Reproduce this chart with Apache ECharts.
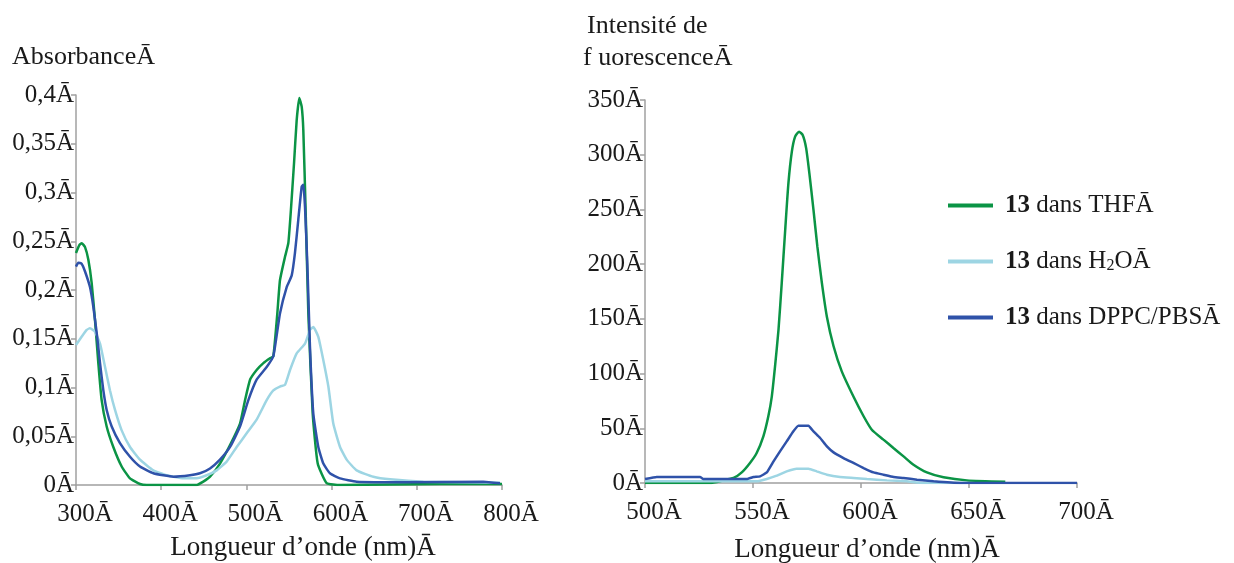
<!DOCTYPE html>
<html>
<head>
<meta charset="utf-8">
<script src="https://cdn.jsdelivr.net/npm/echarts@6/dist/echarts.min.js"></script>
<style>
  html, body { margin: 0; padding: 0; background: #ffffff; }
  #chart { width: 1234px; height: 563px; }
</style>
</head>
<body>
<div id="chart"></div>
<script>
// ---------- Data ----------
// Absorbance panel (wavelength nm, absorbance)
const absWlTHF = [300, 303.9, 306.7, 310.6, 314.5, 318.4, 322.3, 326.2, 330.1, 336, 343.8, 353.6, 363.4, 375.1, 383, 441.6, 449.4, 457.3, 469, 480.8, 492.5, 498.4, 504.3, 512, 519.9, 527.7, 531.6, 536.3, 539.4, 545.3, 549.2, 552, 555.9, 559, 562.1, 564.9, 566.8, 569.6, 572.7, 577.8, 583.7, 594.2, 610, 727, 800];
const absTHF   = [0.238, 0.246, 0.248, 0.244, 0.231, 0.207, 0.169, 0.125, 0.087, 0.060, 0.039, 0.019, 0.0068, 0.001, 0, 0, 0.0034, 0.0085, 0.022, 0.041, 0.063, 0.087, 0.108, 0.118, 0.125, 0.130, 0.132, 0.176, 0.210, 0.234, 0.248, 0.279, 0.330, 0.374, 0.397, 0.388, 0.364, 0.279, 0.176, 0.0735, 0.022, 0.002, 0, 0.001, 0.001];

const absWlH2O = [300, 306.6, 312.5, 316.4, 322.3, 328.2, 334.1, 339.9, 345.8, 353.6, 363.4, 375.1, 390.8, 406.4, 426, 441.6, 453.4, 465.1, 476.8, 488.6, 500.3, 512, 523.8, 531.6, 539.4, 545.3, 551.2, 559, 568.8, 574.6, 578.5, 584.4, 590.3, 596.2, 602, 609.9, 617.7, 629.4, 649, 668.6, 707.7, 797.7];
const absH2O   = [0.1436, 0.152, 0.159, 0.1607, 0.157, 0.145, 0.121, 0.097, 0.077, 0.056, 0.039, 0.026, 0.015, 0.010, 0.007, 0.007, 0.010, 0.015, 0.024, 0.039, 0.053, 0.067, 0.087, 0.097, 0.101, 0.1026, 0.118, 0.135, 0.145, 0.159, 0.162, 0.152, 0.128, 0.101, 0.063, 0.039, 0.026, 0.015, 0.0085, 0.0058, 0.0034, 0.0024];

const absWlDPPC = [300, 302.7, 306.6, 310.6, 316.4, 320.3, 324.3, 328.2, 332.1, 336, 341.9, 351.6, 363.4, 375.1, 390.8, 414.3, 433.8, 445.5, 457.3, 469, 480.8, 492.5, 502.3, 512, 523.8, 531.6, 539.4, 547.3, 553.2, 557, 560.9, 564.9, 566.8, 568.8, 571.5, 574.6, 578.5, 584.4, 590.3, 598.1, 609.9, 629.4, 688.1, 778, 797.7];
const absDPPC   = [0.224, 0.228, 0.227, 0.219, 0.203, 0.183, 0.156, 0.125, 0.097, 0.077, 0.060, 0.043, 0.029, 0.019, 0.012, 0.0085, 0.010, 0.012, 0.017, 0.026, 0.039, 0.060, 0.087, 0.108, 0.121, 0.132, 0.176, 0.203, 0.215, 0.238, 0.272, 0.306, 0.308, 0.285, 0.227, 0.142, 0.0735, 0.039, 0.022, 0.012, 0.0068, 0.0034, 0.0028, 0.0034, 0.0017];

// Fluorescence panel (wavelength nm, intensity)
const fluWlTHF = [500, 530, 536.3, 541, 544.8, 548.6, 551.7, 554.8, 557.1, 558.7, 560.2, 561.8, 563.3, 564.9, 566.4, 568, 569.5, 571.3, 573, 574.6, 576.1, 578, 579.8, 581.9, 584.2, 587.3, 591.1, 596.5, 601.2, 605, 610.4, 615, 619.7, 624.3, 630.5, 638.2, 649, 666.8];
const fluTHF   = [0, 0, 2.4, 4.6, 9.7, 18.3, 27.4, 42.6, 60.9, 79, 106.5, 140, 182.6, 231, 274, 303, 316.5, 321, 318, 306, 283, 249.6, 216, 182.6, 152, 125, 102, 79, 61, 48.7, 39.6, 32, 24.3, 16.7, 9.7, 5.2, 2.4, 1.2];

const fluWlH2O = [500, 551.7, 556.4, 561, 565.6, 570.2, 575.7, 579.5, 584.2, 590.3, 596.5, 602.7, 612, 621.2, 629, 649];
const fluH2O   = [1.5, 1.5, 3.65, 6.7, 10.65, 13.1, 13.1, 10.65, 7.6, 5.5, 4.6, 3.65, 2.4, 1.5, 0, 0];

const fluWlDPPC = [500, 505.4, 525.5, 527, 547.1, 550.2, 553.3, 556.4, 559.5, 562.5, 565.6, 568.7, 571, 575.7, 578, 581.1, 584.2, 587.3, 591.9, 596.5, 601.2, 605.8, 610.4, 615.1, 619.7, 625.9, 633.6, 645.9, 700];
const fluDPPC   = [3.65, 5.5, 5.5, 3.65, 3.65, 5.5, 6.1, 9.7, 19.8, 28.9, 38, 47.2, 52.3, 52.3, 47.2, 41.1, 33.5, 28, 22.8, 18.3, 13.7, 9.7, 7.6, 5.5, 4.6, 3, 1.5, 0, 0];

// Series names and legend labels
const seriesNames = ['THF', 'H2O', 'DPPC'];
const legendLabels = {
  'THF': '{b|13}{t| dans THFĀ}',
  'H2O': '{b|13}{t| dans H}{s|2}{t|OĀ}',
  'DPPC': '{b|13}{t| dans DPPC/PBSĀ}'
};

// Text
const leftYTitle = 'AbsorbanceĀ';
const rightYTitle1 = 'Intensité de';
const rightYTitle2 = 'f uorescenceĀ';
const xTitle = 'Longueur d’onde (nm)Ā';

// ---------- Styles ----------
const FONT = '"Liberation Serif", "Times New Roman", serif';
const TXT = '#1a1a1a';
const AXIS = '#a0a0a0';
const colors = { 'THF': '#0b9445', 'H2O': '#9dd5e3', 'DPPC': '#2f52a9' };

function zip(xs, ys) { return xs.map((x, i) => [x, ys[i]]); }

function yFmt(v) {
  return String(+v.toFixed(2)).replace('.', ',') + 'Ā';
}

function xAxisCfg(gridIndex, min, max, interval) {
  return {
    type: 'value', gridIndex, min, max, interval,
    axisLine: { show: true, lineStyle: { color: AXIS, width: 1.5 } },
    axisTick: { show: true, length: 5, lineStyle: { color: AXIS, width: 1.5 } },
    splitLine: { show: false },
    axisLabel: {
      show: true, margin: 17, color: TXT, fontFamily: FONT, fontSize: 25,
      padding: [0, 0, 0, 18],
      showMinLabel: true, showMaxLabel: true,
      formatter: v => v + 'Ā'
    }
  };
}

function yAxisCfg(gridIndex, min, max, interval, fmt) {
  return {
    type: 'value', gridIndex, min, max, interval,
    axisLine: { show: true, lineStyle: { color: AXIS, width: 1.5 } },
    axisTick: { show: true, length: 5, lineStyle: { color: AXIS, width: 1.5 } },
    splitLine: { show: false },
    axisLabel: {
      show: true, margin: 2, color: TXT, fontFamily: FONT, fontSize: 25,
      showMinLabel: true, showMaxLabel: true,
      formatter: fmt
    }
  };
}

function lineSeries(name, xi, data, smooth) {
  return {
    name, type: 'line', xAxisIndex: xi, yAxisIndex: xi,
    data, showSymbol: false, symbol: 'none',
    smooth: smooth,
    lineStyle: { color: colors[name], width: 2.5 },
    itemStyle: { color: colors[name] },
    emphasis: { disabled: true },
    animation: false
  };
}

const chart = echarts.init(document.getElementById('chart'), null, { renderer: 'canvas' });

chart.setOption({
  backgroundColor: '#ffffff',
  animation: false,
  grid: [
    { left: 76, top: 95, width: 426, height: 390, containLabel: false, outerBoundsMode: 'none' },
    { left: 645, top: 100, width: 432, height: 383, containLabel: false, outerBoundsMode: 'none' }
  ],
  xAxis: [ xAxisCfg(0, 300, 800, 100), xAxisCfg(1, 500, 700, 50) ],
  yAxis: [ yAxisCfg(0, 0, 0.4, 0.05, yFmt), yAxisCfg(1, 0, 350, 50, v => v + 'Ā') ],
  legend: {
    data: seriesNames,
    orient: 'vertical',
    left: 943, top: 188,
    itemWidth: 45, itemHeight: 4, itemGap: 31,
    icon: 'rect',
    selectedMode: false,
    formatter: name => legendLabels[name],
    textStyle: {
      color: TXT, fontFamily: FONT, fontSize: 25,
      rich: {
        b: { fontFamily: FONT, fontSize: 25, fontWeight: 'bold', color: TXT, padding: [0, 0, 0, 7] },
        t: { fontFamily: FONT, fontSize: 25, color: TXT, lineHeight: 25 },
        s: { fontFamily: FONT, fontSize: 16, color: TXT, lineHeight: 8, verticalAlign: 'bottom' }
      }
    }
  },
  graphic: [
    { type: 'text', x: 12, y: 57, style: { text: leftYTitle, font: '26px ' + FONT, fill: TXT, textVerticalAlign: 'middle' } },
    { type: 'text', x: 587, y: 26, style: { text: rightYTitle1, font: '26px ' + FONT, fill: TXT, textVerticalAlign: 'middle' } },
    { type: 'text', x: 583, y: 58, style: { text: rightYTitle2, font: '26px ' + FONT, fill: TXT, textVerticalAlign: 'middle' } },
    { type: 'text', x: 303, y: 548, style: { text: xTitle, font: '27px ' + FONT, fill: TXT, textAlign: 'center', textVerticalAlign: 'middle' } },
    { type: 'text', x: 867, y: 550, style: { text: xTitle, font: '27px ' + FONT, fill: TXT, textAlign: 'center', textVerticalAlign: 'middle' } }
  ],
  series: [
    lineSeries('THF', 0, zip(absWlTHF, absTHF), 0.15),
    lineSeries('H2O', 0, zip(absWlH2O, absH2O), 0.15),
    lineSeries('DPPC', 0, zip(absWlDPPC, absDPPC), 0.15),
    lineSeries('THF', 1, zip(fluWlTHF, fluTHF), 0.2),
    lineSeries('H2O', 1, zip(fluWlH2O, fluH2O), 0.1),
    lineSeries('DPPC', 1, zip(fluWlDPPC, fluDPPC), 0.1)
  ]
});
</script>
</body>
</html>
